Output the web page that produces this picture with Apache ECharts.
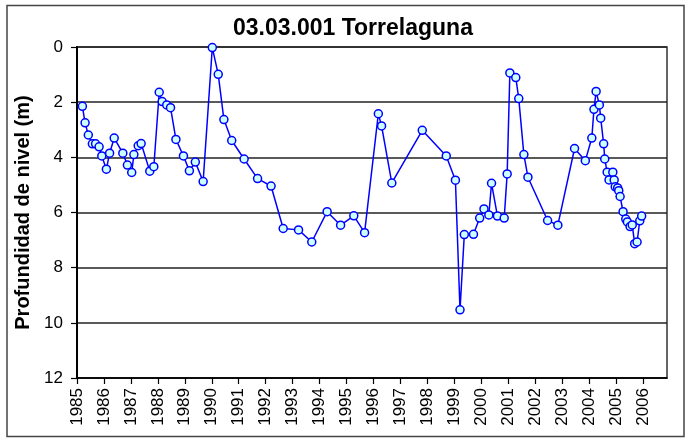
<!DOCTYPE html>
<html>
<head>
<meta charset="utf-8">
<script src="https://cdn.jsdelivr.net/npm/echarts@6/dist/echarts.min.js"></script>
<style>
  html, body { margin: 0; padding: 0; background: #fff; }
  #chart { width: 688px; height: 442px; }
</style>
</head>
<body>
<div id="chart"></div>
<script>
// fechas (año decimal) y profundidad del nivel (m)
var fechas = [
  1985.20, 1985.30, 1985.42, 1985.57, 1985.69, 1985.82, 1985.92, 1986.09, 1986.21, 1986.38,
  1986.70, 1986.87, 1987.03, 1987.11, 1987.27, 1987.38, 1987.70, 1987.85, 1988.05, 1988.16,
  1988.33, 1988.47, 1988.67, 1988.95, 1989.17, 1989.39, 1989.68, 1990.02, 1990.24, 1990.45,
  1990.74, 1991.20, 1991.70, 1992.20, 1992.65, 1993.22, 1993.71, 1994.28, 1994.78, 1995.27,
  1995.67, 1996.18, 1996.30, 1996.68, 1997.81, 1998.70, 1999.04, 1999.21, 1999.37, 1999.71,
  1999.94, 2000.10, 2000.28, 2000.38, 2000.60, 2000.85, 2000.96, 2001.06, 2001.28, 2001.39,
  2001.58, 2001.73, 2002.46, 2002.84, 2003.46, 2003.86, 2004.10, 2004.18, 2004.26, 2004.38,
  2004.43, 2004.54, 2004.58, 2004.67, 2004.74, 2004.88, 2004.93, 2004.97, 2005.06, 2005.10,
  2005.15, 2005.26, 2005.36, 2005.42, 2005.52, 2005.60, 2005.69, 2005.78, 2005.88, 2005.95
];
var profundidad = [
  2.15, 2.75, 3.19, 3.51, 3.51, 3.62, 3.95, 4.43, 3.85, 3.30,
  3.85, 4.28, 4.55, 3.90, 3.58, 3.50, 4.50, 4.34, 1.64, 1.98,
  2.10, 2.20, 3.35, 3.95, 4.49, 4.17, 4.88, 0.02, 0.99, 2.63,
  3.39, 4.06, 4.77, 5.04, 6.58, 6.63, 7.07, 5.97, 6.46, 6.12,
  6.73, 2.42, 2.86, 4.93, 3.02, 3.95, 4.83, 9.53, 6.80, 6.79,
  6.20, 5.87, 6.09, 4.94, 6.13, 6.20, 4.60, 0.94, 1.11, 1.87,
  3.90, 4.72, 6.29, 6.46, 3.68, 4.12, 3.30, 2.26, 1.61, 2.10,
  2.58, 3.51, 4.06, 4.54, 4.82, 4.54, 4.82, 5.07, 5.11, 5.21,
  5.42, 5.97, 6.24, 6.34, 6.51, 6.45, 7.13, 7.07, 6.30, 6.13
];
var titulo = '03.03.001 Torrelaguna';
var nombreEjeY = 'Profundidad de nivel (m)';

var puntos = fechas.map(function (f, i) { return [f, profundidad[i]]; });

var chart = echarts.init(document.getElementById('chart'), null, { renderer: 'canvas' });
var fuente = 'Liberation Sans, Arial, sans-serif';

var option = {
  backgroundColor: '#fff',
  animation: false,
  title: {
    text: titulo,
    left: 228,
    top: 12,
    textStyle: { fontFamily: fuente, fontSize: 23, fontWeight: 'bold', color: '#000' }
  },
  graphic: [{
    type: 'rect',
    shape: { x: 7, y: 5.5, width: 677, height: 431 },
    style: { fill: 'none', stroke: '#444', lineWidth: 1.5 },
    silent: true
  }],
  grid: {
    left: 77, top: 47, right: 21, bottom: 64,
    show: true, borderColor: '#333', borderWidth: 1.5, backgroundColor: 'transparent'
  },
  xAxis: {
    type: 'value',
    min: 1985,
    max: 2006.89,
    interval: 1,
    splitLine: { show: false },
    axisLine: { onZero: false, lineStyle: { color: '#000', width: 1.5 } },
    axisTick: { show: true, inside: false, length: 6, lineStyle: { color: '#000', width: 1.2 } },
    axisLabel: {
      rotate: 90,
      margin: 10,
      showMaxLabel: false,
      fontFamily: fuente, fontSize: 17, color: '#000',
      formatter: function (v) { return Math.abs(v - Math.round(v)) < 1e-6 ? String(Math.round(v)) : ''; }
    }
  },
  yAxis: {
    type: 'value',
    inverse: true,
    min: 0,
    max: 12,
    interval: 2,
    name: nombreEjeY,
    nameLocation: 'middle',
    nameGap: 39,
    nameTextStyle: { fontFamily: fuente, fontSize: 20, fontWeight: 'bold', color: '#000' },
    axisLine: { show: true, lineStyle: { color: '#000', width: 2 } },
    axisTick: { show: true, inside: false, length: 6, lineStyle: { color: '#000', width: 1.2 } },
    axisLabel: { margin: 14, fontFamily: fuente, fontSize: 17, color: '#000' },
    splitLine: { show: true, lineStyle: { color: '#222', width: 1.5 } }
  },
  series: [{
    type: 'line',
    data: puntos,
    symbol: 'circle',
    symbolSize: 8,
    showAllSymbol: true,
    lineStyle: { color: '#0000ff', width: 1.5 },
    itemStyle: { color: '#ccffff', borderColor: '#0000ff', borderWidth: 1.5 }
  }]
};

chart.setOption(option);
</script>
</body>
</html>
